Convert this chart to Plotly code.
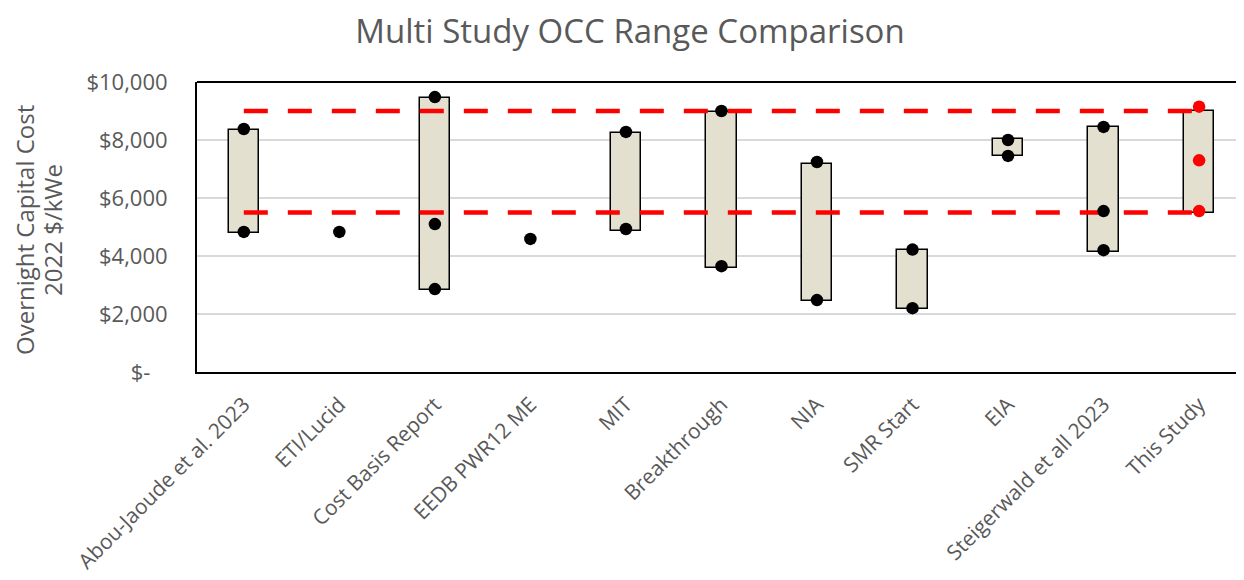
import plotly.graph_objects as go

categories = ["Abou-Jaoude et al. 2023", "ETI/Lucid", "Cost Basis Report", "EEDB PWR12 ME",
              "MIT", "Breakthrough", "NIA", "SMR Start", "EIA", "Steigerwald et all 2023", "This Study"]
box_low = [4800, None, 2830, None, 4860, 3600, 2450, 2180, 7450, 4130, 5500]
box_high = [8350, None, 9450, None, 8240, 8970, 7170, 4200, 8030, 8450, 9000]
dot_low = [4830, None, 2860, None, 4930, 3650, 2480, 2200, 7450, 4200, None]
dot_mid = [None, 4830, 5100, 4590, None, None, None, None, None, 5550, None]
dot_high = [8380, None, 9480, None, 8280, 9000, 7240, 4220, 8000, 8450, None]
study_dots = [5550, 7300, 9150]
range_low = 5500
range_high = 9000
y_ticks = [0, 2000, 4000, 6000, 8000, 10000]
y_ticklabels = ["$-\u00a0\u00a0\u00a0", "$2,000", "$4,000", "$6,000", "$8,000", "$10,000"]
y_title_lines = ["Overnight Capital Cost", "2022 $/kWe"]

GRAY = "#595959"
FONT = "Open Sans"

# page has an 8px body margin; figure is sized to fill the rest of the 1244x580 window
W, H = 1236, 572
L, T, B = 189, 74, 208

fig = go.Figure()

bar_x = [c for c, l in zip(categories, box_low) if l is not None]
bar_base = [l for l in box_low if l is not None]
bar_h = [h - l for l, h in zip(box_low, box_high) if l is not None]
fig.add_trace(go.Bar(x=bar_x, y=bar_h, base=bar_base, width=0.32,
                     marker=dict(color="#E3E0D0", line=dict(color="black", width=1.5)),
                     hoverinfo="skip", showlegend=False))

for val in (range_high, range_low):
    fig.add_trace(go.Scatter(x=[categories[0], categories[-1]], y=[val, val], mode="lines",
                             line=dict(color="#FF0000", width=4.5, dash="24px,20px"),
                             showlegend=False, hoverinfo="skip"))

for series in (dot_low, dot_mid, dot_high):
    xs = [c for c, v in zip(categories, series) if v is not None]
    ys = [v for v in series if v is not None]
    fig.add_trace(go.Scatter(x=xs, y=ys, mode="markers",
                             marker=dict(color="black", size=12.5), showlegend=False))

fig.add_trace(go.Scatter(x=[categories[-1]] * len(study_dots), y=study_dots, mode="markers",
                         marker=dict(color="#FF0000", size=12.5), showlegend=False))

fig.update_layout(
    width=W, height=H,
    margin=dict(l=L, r=0, t=T, b=B, pad=0),
    paper_bgcolor="white", plot_bgcolor="white",
    font=dict(family=FONT, color=GRAY),
    title=dict(text="Multi Study OCC Range Comparison", x=0.5 + 4 / W, xanchor="center",
               y=1 - 23 / H, yanchor="middle", yref="container",
               font=dict(size=33, color=GRAY, family=FONT)),
    bargap=0,
)
fig.update_xaxes(type="category", categoryorder="array", categoryarray=categories,
                 range=[-0.49, 10.47], tickangle=-45, tickfont=dict(size=21, color=GRAY),
                 showline=True, linecolor="black", linewidth=2, mirror=False,
                 showgrid=False, ticks="", ticklabelstandoff=10, automargin=False)
fig.update_yaxes(range=[0, 10000], tickvals=y_ticks, ticktext=y_ticklabels,
                 tickfont=dict(size=22, color=GRAY),
                 showline=True, linecolor="black", linewidth=2, mirror=False,
                 showgrid=True, gridcolor="#D9D9D9", gridwidth=1.5,
                 ticks="", ticklabelstandoff=23, zeroline=False, automargin=False)

fig.add_shape(type="line", xref="paper", yref="paper", x0=0, x1=1, y0=1, y1=1,
              line=dict(color="black", width=2))

for text, px in zip(y_title_lines, (17, 45)):
    fig.add_annotation(text=text, xref="paper", yref="paper",
                       x=(px - L) / (W - L), y=0.49, xanchor="center", yanchor="middle",
                       textangle=-90, showarrow=False,
                       font=dict(size=24, color=GRAY, family=FONT))

fig.write_html("out.html")
